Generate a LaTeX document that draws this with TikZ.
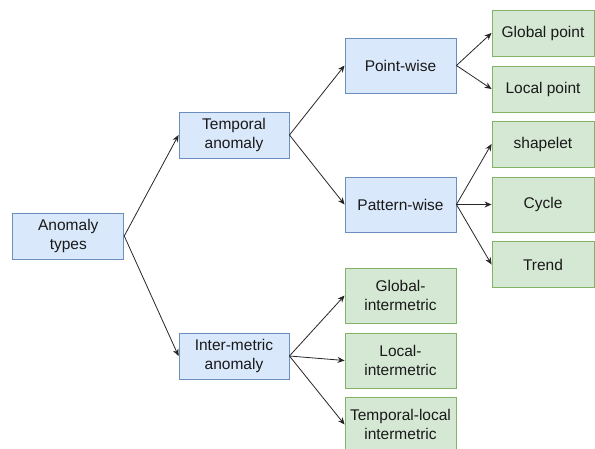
\documentclass[tikz,border=0pt]{standalone}
\usepackage{fontspec}
\setmainfont{Liberation Sans}
\usetikzlibrary{arrows.meta}
\definecolor{bfill}{HTML}{DAE8FC}
\definecolor{bdraw}{HTML}{6C8EBF}
\definecolor{gfill}{HTML}{D5E8D4}
\definecolor{gdraw}{HTML}{82B366}
\tikzset{
  box/.style={rectangle, line width=0.9pt, align=center, inner sep=0pt,
    font=\fontsize{15.5}{19}\selectfont, text=black!90},
  bluebox/.style={box, fill=bfill, draw=bdraw},
  greenbox/.style={box, fill=gfill, draw=gdraw},
  conn/.style={line width=0.8pt, draw=black!85, -{Stealth[length=7pt,width=6pt]}}
}
\begin{document}
\begin{tikzpicture}[x=1pt,y=-1pt]
\useasboundingbox (0,0) rectangle (595,448);
\node[bluebox, minimum width=111pt, minimum height=46pt] (types) at (68.3,236) {Anomaly\\types};
\node[bluebox, minimum width=110pt, minimum height=46pt] (temporal) at (234,135) {Temporal\\anomaly};
\node[bluebox, minimum width=110pt, minimum height=46pt] (inter) at (234,356) {Inter-metric\\anomaly};
\node[bluebox, minimum width=111pt, minimum height=55pt] (point) at (400.5,65.5) {Point-wise};
\node[bluebox, minimum width=111pt, minimum height=55pt] (pattern) at (400.5,204.5) {Pattern-wise};
\node[greenbox, minimum width=102pt, minimum height=46pt] (gpoint) at (543,33) {Global point};
\node[greenbox, minimum width=102pt, minimum height=46pt] (lpoint) at (543,89) {Local point};
\node[greenbox, minimum width=102pt, minimum height=46pt] (shapelet) at (543,144) {shapelet};
\node[greenbox, minimum width=102pt, minimum height=55pt] (cycle) at (543,204.5) {Cycle};
\node[greenbox, minimum width=102pt, minimum height=46pt] (trend) at (543,264.5) {Trend};
\node[greenbox, minimum width=111pt, minimum height=55pt] (ginter) at (400.5,295.5) {Global-\\intermetric};
\node[greenbox, minimum width=111pt, minimum height=55pt] (linter) at (400.5,360.5) {Local-\\intermetric};
\node[greenbox, minimum width=111pt, minimum height=55pt] (tinter) at (400.5,424.5) {Temporal-local\\intermetric};
\draw[conn] (types.east) -- (temporal.west);
\draw[conn] (types.east) -- (inter.west);
\draw[conn] (temporal.east) -- (point.west);
\draw[conn] (temporal.east) -- (pattern.west);
\draw[conn] (point.east) -- (gpoint.west);
\draw[conn] (point.east) -- (lpoint.west);
\draw[conn] (pattern.east) -- (shapelet.west);
\draw[conn] (pattern.east) -- (cycle.west);
\draw[conn] (pattern.east) -- (trend.west);
\draw[conn] (inter.east) -- (ginter.west);
\draw[conn] (inter.east) -- (linter.west);
\draw[conn] (inter.east) -- (tinter.west);
\end{tikzpicture}
\end{document}
